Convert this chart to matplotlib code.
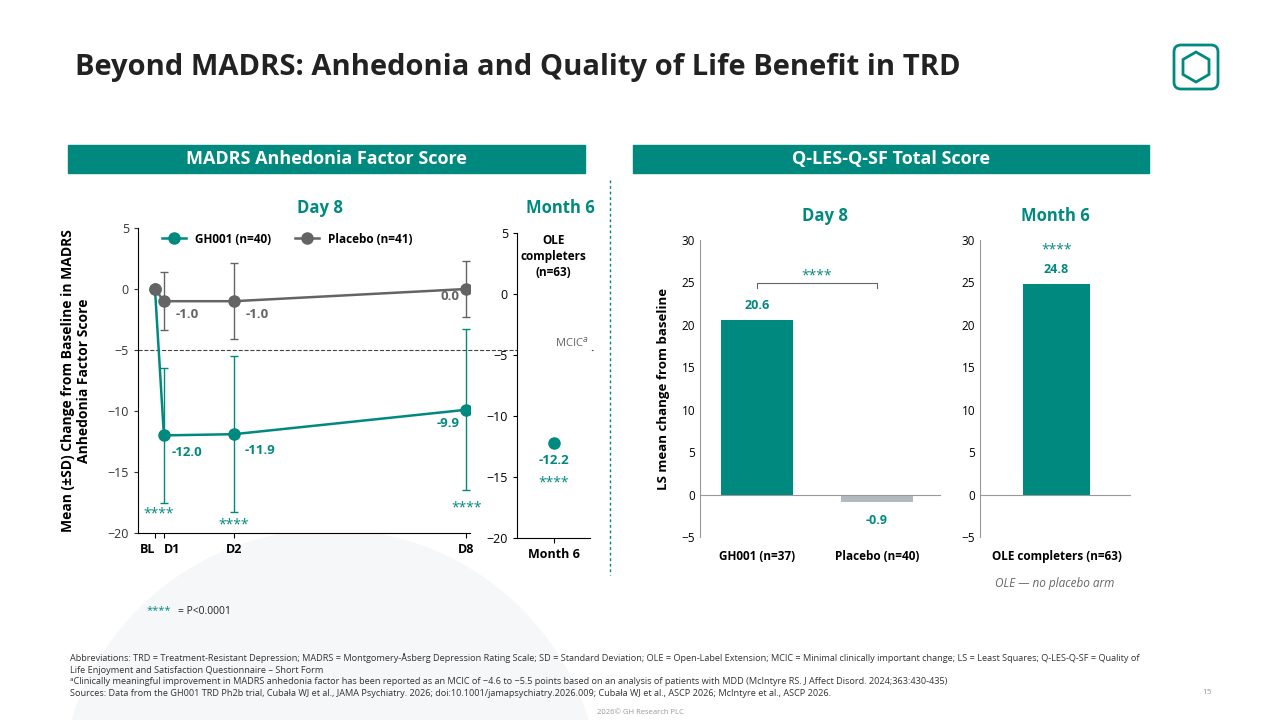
import matplotlib
matplotlib.use("Agg")
import matplotlib.pyplot as plt
from matplotlib.patches import Rectangle, Circle, FancyBboxPatch, RegularPolygon
from matplotlib.lines import Line2D

TEAL = "#00897F"
GREY = "#646464"
plt.rcParams['font.family'] = ['Open Sans', 'DejaVu Sans']

# Data
timepoints = ["BL", "D1", "D2", "D8"]
time_pos = [0, 0.28, 2.47, 9.72]
gh001_mean = [0.0, -12.0, -11.9, -9.9]
gh001_sd = [0.0, 5.5, 6.4, 6.6]
placebo_mean = [0.0, -1.0, -1.0, 0.0]
placebo_sd = [0.0, 2.4, 3.1, 2.3]
gh001_labels = ["", "-12.0", "-11.9", "-9.9"]
placebo_labels = ["", "-1.0", "-1.0", "0.0"]
month6_mean = -12.2
mcic = -5
qles_groups = ["GH001 (n=37)", "Placebo (n=40)"]
qles_values = [20.6, -0.9]
ole_group = ["OLE completers (n=63)"]
ole_value = [24.8]

W, H = 1280, 720
fig = plt.figure(figsize=(12.8, 7.2), dpi=100)

def ax_px(x0, y0, x1, y1):
    return fig.add_axes([x0 / W, 1 - y1 / H, (x1 - x0) / W, (y1 - y0) / H])

def ftext(x, y, s, **kw):
    fig.text(x / W, 1 - y / H, s, **kw)

# background
bg = fig.add_axes([0, 0, 1, 1]); bg.set_xlim(0, W); bg.set_ylim(H, 0); bg.axis("off")
bg.add_patch(Circle((330, 800), 270, color="#f6f7f8", zorder=0))
bg.add_patch(Rectangle((68, 145), 517, 28, color=TEAL))
bg.add_patch(Rectangle((633, 145), 516, 28, color=TEAL))
bg.plot([610, 610], [180, 575], ls=(0, (2, 2)), color=TEAL, lw=1)
bg.add_patch(FancyBboxPatch((1174, 45), 44, 44, boxstyle="round,pad=0,rounding_size=7",
                            fill=False, ec=TEAL, lw=2))
bg.add_patch(RegularPolygon((1196, 67), 6, radius=15, fill=False, ec=TEAL, lw=2))

ftext(75, 67, "Beyond MADRS: Anhedonia and Quality of Life Benefit in TRD",
      fontsize=21, fontweight="bold", color="#222222", va="center")
ftext(326, 159, "MADRS Anhedonia Factor Score", fontsize=13, fontweight="bold",
      color="white", ha="center", va="center")
ftext(891, 159, "Q-LES-Q-SF Total Score", fontsize=13, fontweight="bold",
      color="white", ha="center", va="center")
ftext(320, 208, "Day 8", fontsize=12, fontweight="bold", color=TEAL, ha="center", va="center")
ftext(560, 208, "Month 6", fontsize=12, fontweight="bold", color=TEAL, ha="center", va="center")
ftext(825, 216, "Day 8", fontsize=12, fontweight="bold", color=TEAL, ha="center", va="center")
ftext(1055, 216, "Month 6", fontsize=12, fontweight="bold", color=TEAL, ha="center", va="center")

# Left line chart
ax = ax_px(138, 228, 470, 533)
ax.errorbar(time_pos, gh001_mean, yerr=gh001_sd, color=TEAL, marker="o", ms=8,
            lw=1.8, capsize=3, elinewidth=1, zorder=3)
ax.errorbar(time_pos, placebo_mean, yerr=placebo_sd, color=GREY, marker="o", ms=8,
            lw=1.8, capsize=3, elinewidth=1, zorder=3)
ax.axhline(mcic, color="#444444", ls="--", lw=0.8, clip_on=False, xmax=1.37)
offs_g = [None, (0.72, -1.7), (0.8, -1.6), (-0.56, -1.4)]
for x, y, s, o in zip(time_pos, gh001_mean, gh001_labels, offs_g):
    if s:
        ax.text(x + o[0], y + o[1], s, color=TEAL, fontsize=9.5, fontweight="bold", ha="center")
offs_p = [None, (0.72, -1.4), (0.72, -1.4), (-0.5, -0.9)]
for x, y, s, o in zip(time_pos, placebo_mean, placebo_labels, offs_p):
    if s:
        ax.text(x + o[0], y + o[1], s, color=GREY, fontsize=9.5, fontweight="bold", ha="center")
for x, y in zip([0.1, 2.47, 9.72], [-18.7, -19.6, -18.2]):
    ax.text(x, y, "****", color=TEAL, fontsize=10, ha="center")
ax.set_ylim(-20, 5); ax.set_yticks([5, 0, -5, -10, -15, -20])
ax.set_xlim(-0.53, 9.84)
ax.set_xticks(time_pos); ax.set_xticklabels(timepoints, fontsize=9, fontweight="bold")
tl = ax.get_xticklabels()
tl[0].set_ha("right"); tl[1].set_ha("left")
ax.tick_params(axis="y", labelsize=9, length=3, colors="#333333")
for s in ["top", "right"]: ax.spines[s].set_visible(False)
ax.set_ylabel("Mean (±SD) Change from Baseline in MADRS\nAnhedonia Factor Score",
              fontsize=10, fontweight="bold", labelpad=12)
leg_h = [Line2D([], [], color=TEAL, marker="o", ms=8, lw=1.8),
         Line2D([], [], color=GREY, marker="o", ms=8, lw=1.8)]
ax.legend(leg_h, ["GH001 (n=40)", "Placebo (n=41)"], loc="upper center", ncol=2,
          frameon=False, bbox_to_anchor=(0.45, 1.02), handlelength=2,
          prop={"weight": "bold", "size": 8.5})

# Month 6 axis
ax2 = ax_px(517, 233, 590, 538)
ax2.plot([0], [month6_mean], "o", color=TEAL, ms=8)
ax2.text(0, month6_mean - 1.7, f"{month6_mean:.1f}", color=TEAL, fontsize=9.5,
         fontweight="bold", ha="center")
ax2.text(0, month6_mean - 3.6, "****", color=TEAL, fontsize=10, ha="center")
ax2.text(0, 4.9, "OLE\ncompleters\n(n=63)", fontsize=8.5, fontweight="bold",
         ha="center", va="top", linespacing=1.3)
ax2.text(0.95, -4.3, "MCIC$^{a}$", fontsize=8, color=GREY, ha="right")
ax2.set_ylim(-20, 5); ax2.set_yticks([5, 0, -5, -10, -15, -20])
ax2.set_xlim(-1, 1); ax2.set_xticks([0]); ax2.set_xticklabels(["Month 6"], fontsize=9, fontweight="bold")
ax2.tick_params(axis="y", labelsize=9, length=3)
for s in ["top", "right"]: ax2.spines[s].set_visible(False)

def bar_axes(a):
    a.spines["bottom"].set_position(("data", 0))
    for s in ["top", "right"]: a.spines[s].set_visible(False)
    a.spines["left"].set_color("#999999"); a.spines["bottom"].set_color("#999999")
    a.set_ylim(-5, 30); a.set_yticks(range(-5, 31, 5))
    a.tick_params(axis="y", labelsize=8.5, length=0)

# Bar chart 1
ax3 = ax_px(700, 240, 940, 537)
bar_axes(ax3)
cols = [TEAL, "#B4B9BE"]
ax3.bar([0, 1], qles_values, width=0.6, color=cols)
for i, v in enumerate(qles_values):
    ax3.text(i, v + 0.9 if v > 0 else v - 1.4, f"{v:.1f}", color=TEAL, fontsize=9,
             fontweight="bold", ha="center", va="bottom" if v > 0 else "top")
ax3.plot([0, 0, 1, 1], [24.4, 24.9, 24.9, 24.4], color=GREY, lw=0.8)
ax3.text(0.5, 25.4, "****", color=TEAL, fontsize=10, ha="center")
ax3.set_xlim(-0.475, 1.525)
ax3.set_xticks([0, 1]); ax3.set_xticklabels(qles_groups, fontsize=8.5, fontweight="bold")
ax3.tick_params(axis="x", length=0, pad=40)
ax3.set_ylabel("LS mean change from baseline", fontsize=9.5, fontweight="bold", labelpad=8)

# Bar chart 2
ax4 = ax_px(980, 240, 1130, 537)
bar_axes(ax4)
ax4.bar([0], ole_value, width=0.9, color=TEAL)
ax4.text(0, ole_value[0] + 0.9, f"{ole_value[0]:.1f}", color=TEAL, fontsize=9,
         fontweight="bold", ha="center", va="bottom")
ax4.text(0, ole_value[0] + 3.6, "****", color=TEAL, fontsize=10, ha="center")
ax4.set_xlim(-1.02, 0.98)
ax4.set_xticks([0]); ax4.set_xticklabels(ole_group, fontsize=8.5, fontweight="bold")
ax4.tick_params(axis="x", length=0, pad=40)
ftext(1055, 584, "OLE — no placebo arm", fontsize=8.5, style="italic", color="#666666",
      ha="center", va="center")

# footnotes
ftext(147, 611, "****", color=TEAL, fontsize=8, va="center")
ftext(178, 611, "= P<0.0001", fontsize=7.5, va="center", color="#222222")
foot = ("Abbreviations: TRD = Treatment-Resistant Depression; MADRS = Montgomery-Åsberg Depression Rating Scale; SD = Standard Deviation; OLE = Open-Label Extension; MCIC = Minimal clinically important change; LS = Least Squares; Q-LES-Q-SF = Quality of\n"
        "Life Enjoyment and Satisfaction Questionnaire – Short Form\n"
        "ᵃClinically meaningful improvement in MADRS anhedonia factor has been reported as an MCIC of −4.6 to −5.5 points based on an analysis of patients with MDD (McIntyre RS. J Affect Disord. 2024;363:430-435)\n"
        "Sources: Data from the GH001 TRD Ph2b trial, Cubała WJ et al., JAMA Psychiatry. 2026; doi:10.1001/jamapsychiatry.2026.009; Cubała WJ et al., ASCP 2026; McIntyre et al., ASCP 2026.")
ftext(70, 653, foot, fontsize=6.6, va="top", color="#333333", linespacing=1.4)
ftext(1212, 693, "15", fontsize=6, color="#999999", ha="right", va="center")
ftext(640, 712, "2026© GH Research PLC", fontsize=5.5, color="#999999", ha="center", va="center")

fig.savefig("out.png", dpi=100)
